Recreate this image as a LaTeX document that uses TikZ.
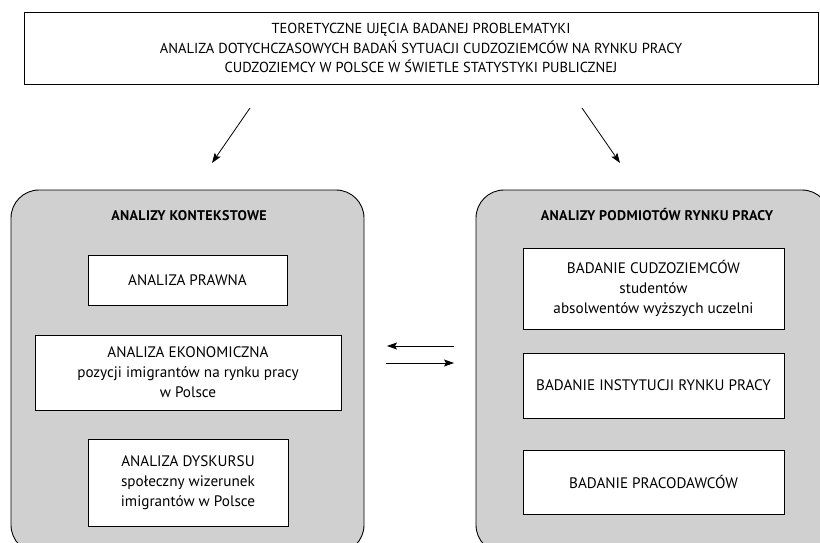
\documentclass[tikz,border=0pt]{standalone}
\usepackage{fontspec}
\setmainfont{PT Sans}
\usetikzlibrary{arrows.meta}
\definecolor{panelgray}{RGB}{208,208,208}
\begin{document}
\begin{tikzpicture}[x=1pt,y=-1pt,
  box/.style={draw=black, line width=0.9pt, fill=white, inner sep=0pt, align=center,
    font=\fontsize{15.2}{20}\selectfont},
  panel/.style={draw=black, line width=0.9pt, fill=panelgray, rounded corners=28pt, inner sep=0pt},
  ttl/.style={font=\bfseries\fontsize{14}{16}\selectfont\addfontfeatures{LetterSpace=2.5}, inner sep=0pt},
  arr/.style={-{Stealth[length=10pt,width=7pt,inset=2pt]}, line width=0.8pt}]
\useasboundingbox (0,0) rectangle (820,543);
\begin{scope}
\clip (0,0) rectangle (820,543);
\node[panel, minimum width=353pt, minimum height=363pt] (lp) at (187.5,371.5) {};
\node[panel, minimum width=354pt, minimum height=363pt] (rp) at (653,371.5) {};
\end{scope}
\node[box, minimum width=794pt, minimum height=72pt, font=\fontsize{14.5}{19.5}\selectfont] (top) at (421,48)
  {TEORETYCZNE UJĘCIA BADANEJ PROBLEMATYKI\\ANALIZA DOTYCHCZASOWYCH BADAŃ SYTUACJI CUDZOZIEMCÓW NA RYNKU PRACY\\CUDZOZIEMCY W POLSCE W ŚWIETLE STATYSTYKI PUBLICZNEJ};
\node[ttl] (lt) at (189,216) {ANALIZY KONTEKSTOWE};
\node[ttl] (rt) at (657,215) {ANALIZY PODMIOTÓW RYNKU PRACY};
\node[box, minimum width=199pt, minimum height=50pt] (prawna) at (187.5,280) {ANALIZA PRAWNA};
\node[box, minimum width=306pt, minimum height=75pt] (ekon) at (188,372.5) {ANALIZA EKONOMICZNA\\pozycji imigrantów na rynku pracy\\w Polsce};
\node[box, minimum width=200pt, minimum height=87pt] (dysk) at (188,482.5) {ANALIZA DYSKURSU\\społeczny wizerunek\\imigrantów w Polsce};
\node[box, minimum width=261pt, minimum height=81pt] (cudz) at (653.5,288.5) {BADANIE CUDZOZIEMCÓW\\studentów\\absolwentów wyższych uczelni};
\node[box, minimum width=261pt, minimum height=65pt] (inst) at (653.5,385.5) {BADANIE INSTYTUCJI RYNKU PRACY};
\node[box, minimum width=261pt, minimum height=64pt] (prac) at (653.5,482) {BADANIE PRACODAWCÓW};
\coordinate (a1s) at (250,108);
\coordinate (a1e) at (212,163);
\coordinate (a2s) at (582,108);
\coordinate (a2e) at (620,163);
\coordinate (m1s) at (454,346);
\coordinate (m1e) at (387,346);
\coordinate (m2s) at (386,363);
\coordinate (m2e) at (454,363);
\draw[arr] (a1s) -- (a1e);
\draw[arr] (a2s) -- (a2e);
\draw[arr] (m1s) -- (m1e);
\draw[arr] (m2s) -- (m2e);
\end{tikzpicture}
\end{document}
